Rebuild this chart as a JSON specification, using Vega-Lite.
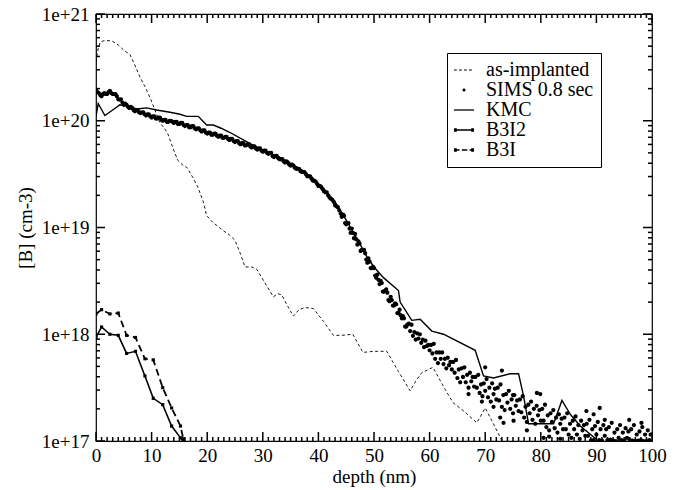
{
  "$schema": "https://vega.github.io/schema/vega-lite/v6.json",
  "autosize": "none",
  "width": 556,
  "height": 427,
  "padding": {"left": 96, "top": 14, "right": 30, "bottom": 49},
  "background": "white",
  "config": {
    "font": "Liberation Serif",
    "view": {"stroke": "black", "strokeWidth": 1.2},
    "axis": {"domain": false, "labelColor": "black", "titleColor": "black", "labelFont": "Liberation Serif", "titleFont": "Liberation Serif", "labelFontSize": 19, "titleFontSize": 19, "titleFontWeight": "normal", "grid": false}
  },
  "datasets": {
    "xticks": [
      {"v": 0}, {"v": 1}, {"v": 2}, {"v": 3}, {"v": 4}, {"v": 5}, {"v": 6}, {"v": 7}, {"v": 8}, {"v": 9}, {"v": 10}, {"v": 11}, {"v": 12}, {"v": 13}, {"v": 14}, {"v": 15}, {"v": 16}, {"v": 17}, {"v": 18}, {"v": 19}, {"v": 20}, {"v": 21}, {"v": 22}, {"v": 23}, {"v": 24}, {"v": 25}, {"v": 26}, {"v": 27}, {"v": 28}, {"v": 29}, {"v": 30}, {"v": 31}, {"v": 32}, {"v": 33}, {"v": 34}, {"v": 35}, {"v": 36}, {"v": 37}, {"v": 38}, {"v": 39}, {"v": 40}, {"v": 41}, {"v": 42}, {"v": 43}, {"v": 44}, {"v": 45}, {"v": 46}, {"v": 47}, {"v": 48}, {"v": 49}, {"v": 50}, {"v": 51}, {"v": 52}, {"v": 53}, {"v": 54}, {"v": 55}, {"v": 56}, {"v": 57}, {"v": 58}, {"v": 59}, {"v": 60}, {"v": 61}, {"v": 62}, {"v": 63}, {"v": 64}, {"v": 65}, {"v": 66}, {"v": 67}, {"v": 68}, {"v": 69}, {"v": 70}, {"v": 71}, {"v": 72}, {"v": 73}, {"v": 74}, {"v": 75}, {"v": 76}, {"v": 77}, {"v": 78}, {"v": 79}, {"v": 80}, {"v": 81}, {"v": 82}, {"v": 83}, {"v": 84}, {"v": 85}, {"v": 86}, {"v": 87}, {"v": 88}, {"v": 89}, {"v": 90}, {"v": 91}, {"v": 92}, {"v": 93}, {"v": 94}, {"v": 95}, {"v": 96}, {"v": 97}, {"v": 98}, {"v": 99}, {"v": 100}
    ],
    "yticks": [
      {"v": 1e17}, {"v": 2e17}, {"v": 3e17}, {"v": 4e17}, {"v": 5e17}, {"v": 6e17}, {"v": 7e17}, {"v": 8e17}, {"v": 9e17},
      {"v": 1e18}, {"v": 2e18}, {"v": 3e18}, {"v": 4e18}, {"v": 5e18}, {"v": 6e18}, {"v": 7e18}, {"v": 8e18}, {"v": 9e18},
      {"v": 1e19}, {"v": 2e19}, {"v": 3e19}, {"v": 4e19}, {"v": 5e19}, {"v": 6e19}, {"v": 7e19}, {"v": 8e19}, {"v": 9e19},
      {"v": 1e20}, {"v": 2e20}, {"v": 3e20}, {"v": 4e20}, {"v": 5e20}, {"v": 6e20}, {"v": 7e20}, {"v": 8e20}, {"v": 9e20},
      {"v": 1e21}
    ],
    "implant": [
      {"depth": 0, "conc": 3.55e20}, {"depth": 0.4, "conc": 4.79e20}, {"depth": 0.8, "conc": 5.50e20}, {"depth": 1.5, "conc": 5.62e20}, {"depth": 2.8, "conc": 5.62e20}, {"depth": 4.0, "conc": 5.13e20}, {"depth": 5.0, "conc": 4.57e20}, {"depth": 6.1, "conc": 4.17e20}, {"depth": 7.0, "conc": 3.31e20}, {"depth": 7.9, "conc": 2.57e20}, {"depth": 8.8, "conc": 2.09e20}, {"depth": 9.7, "conc": 1.66e20}, {"depth": 10.6, "conc": 1.26e20}, {"depth": 11.5, "conc": 9.55e19}, {"depth": 12.3, "conc": 8.51e19}, {"depth": 12.9, "conc": 7.59e19}, {"depth": 13.8, "conc": 5.62e19}, {"depth": 14.7, "conc": 4.27e19}, {"depth": 15.5, "conc": 3.89e19}, {"depth": 16.4, "conc": 3.63e19}, {"depth": 17.4, "conc": 2.95e19}, {"depth": 18.3, "conc": 2.40e19}, {"depth": 19.3, "conc": 1.74e19}, {"depth": 19.9, "conc": 1.29e19}, {"depth": 21.0, "conc": 1.12e19}, {"depth": 22.9, "conc": 9.33e18}, {"depth": 24.0, "conc": 8.51e18}, {"depth": 25.0, "conc": 7.59e18}, {"depth": 26.0, "conc": 5.62e18}, {"depth": 26.8, "conc": 4.27e18}, {"depth": 28.0, "conc": 4.27e18}, {"depth": 28.9, "conc": 4.07e18}, {"depth": 30.4, "conc": 3.02e18}, {"depth": 31.9, "conc": 2.24e18}, {"depth": 32.7, "conc": 2.40e18}, {"depth": 33.4, "conc": 2.34e18}, {"depth": 34.5, "conc": 1.82e18}, {"depth": 35.5, "conc": 1.48e18}, {"depth": 36.5, "conc": 1.70e18}, {"depth": 37.6, "conc": 1.78e18}, {"depth": 39.1, "conc": 1.74e18}, {"depth": 40.9, "conc": 1.32e18}, {"depth": 42.7, "conc": 9.77e17}, {"depth": 44.2, "conc": 9.77e17}, {"depth": 46.2, "conc": 1.00e18}, {"depth": 48.0, "conc": 6.76e17}, {"depth": 50.0, "conc": 6.92e17}, {"depth": 52.3, "conc": 6.92e17}, {"depth": 54.4, "conc": 4.47e17}, {"depth": 56.5, "conc": 2.95e17}, {"depth": 57.5, "conc": 3.63e17}, {"depth": 58.6, "conc": 4.37e17}, {"depth": 60.6, "conc": 4.90e17}, {"depth": 62.4, "conc": 3.31e17}, {"depth": 64.2, "conc": 2.29e17}, {"depth": 66.4, "conc": 1.86e17}, {"depth": 68.5, "conc": 1.48e17}, {"depth": 70.0, "conc": 2.04e17}, {"depth": 71.6, "conc": 1.41e17}, {"depth": 73.2, "conc": 9.55e16}
    ],
    "kmc": [
      {"depth": 0, "conc": 1.10e20}, {"depth": 0.4, "conc": 1.45e20}, {"depth": 1.6, "conc": 1.12e20}, {"depth": 3.0, "conc": 1.26e20}, {"depth": 4.3, "conc": 1.41e20}, {"depth": 5.5, "conc": 1.38e20}, {"depth": 7.3, "conc": 1.29e20}, {"depth": 9.1, "conc": 1.32e20}, {"depth": 10.9, "conc": 1.26e20}, {"depth": 13.3, "conc": 1.20e20}, {"depth": 15.1, "conc": 1.15e20}, {"depth": 16.3, "conc": 1.10e20}, {"depth": 18.4, "conc": 1.10e20}, {"depth": 19.9, "conc": 9.12e19}, {"depth": 21.1, "conc": 9.12e19}, {"depth": 22.5, "conc": 8.51e19}, {"depth": 24.1, "conc": 7.76e19}, {"depth": 26.5, "conc": 6.61e19}, {"depth": 29, "conc": 5.62e19}, {"depth": 31, "conc": 5.01e19}, {"depth": 33, "conc": 4.57e19}, {"depth": 35, "conc": 3.98e19}, {"depth": 37, "conc": 3.47e19}, {"depth": 39, "conc": 2.88e19}, {"depth": 41, "conc": 2.29e19}, {"depth": 43, "conc": 1.74e19}, {"depth": 45, "conc": 1.17e19}, {"depth": 47, "conc": 7.76e18}, {"depth": 49, "conc": 5.01e18}, {"depth": 50.5, "conc": 3.98e18}, {"depth": 51.7, "conc": 3.39e18}, {"depth": 54.4, "conc": 2.57e18}, {"depth": 54.7, "conc": 2.00e18}, {"depth": 56.8, "conc": 1.35e18}, {"depth": 58.3, "conc": 1.38e18}, {"depth": 60.4, "conc": 1.07e18}, {"depth": 62.5, "conc": 1.00e18}, {"depth": 68.2, "conc": 7.08e17}, {"depth": 69.7, "conc": 4.07e17}, {"depth": 71.5, "conc": 3.89e17}, {"depth": 74.5, "conc": 4.27e17}, {"depth": 76.0, "conc": 4.27e17}, {"depth": 76.9, "conc": 2.63e17}, {"depth": 77.8, "conc": 1.45e17}, {"depth": 82.3, "conc": 1.45e17}, {"depth": 83.8, "conc": 2.40e17}, {"depth": 85.3, "conc": 1.78e17}, {"depth": 87.1, "conc": 1.38e17}, {"depth": 90.6, "conc": 9.77e16}
    ],
    "b3i2": [
      {"depth": 0, "conc": 9.33e17}, {"depth": 1.0, "conc": 1.17e18}, {"depth": 2.5, "conc": 1.00e18}, {"depth": 4.0, "conc": 9.77e17}, {"depth": 5.5, "conc": 6.61e17}, {"depth": 7.1, "conc": 6.92e17}, {"depth": 8.8, "conc": 4.07e17}, {"depth": 10.3, "conc": 2.51e17}, {"depth": 12.0, "conc": 2.19e17}, {"depth": 13.6, "conc": 1.38e17}, {"depth": 15.2, "conc": 1.07e17}, {"depth": 15.7, "conc": 1.00e17}
    ],
    "b3i": [
      {"depth": 0, "conc": 1.55e18}, {"depth": 1.0, "conc": 1.70e18}, {"depth": 2.5, "conc": 1.55e18}, {"depth": 4.0, "conc": 1.58e18}, {"depth": 5.5, "conc": 9.77e17}, {"depth": 7.1, "conc": 9.33e17}, {"depth": 8.8, "conc": 5.89e17}, {"depth": 10.3, "conc": 5.75e17}, {"depth": 12.0, "conc": 3.16e17}, {"depth": 13.6, "conc": 2.04e17}, {"depth": 15.2, "conc": 1.38e17}, {"depth": 15.7, "conc": 1.05e17}
    ],
    "sims": [
      {"depth": 0, "conc": 1.95e20}, {"depth": 0.5, "conc": 1.82e20}, {"depth": 1, "conc": 1.70e20}, {"depth": 1.5, "conc": 1.82e20}, {"depth": 2, "conc": 1.78e20}, {"depth": 2.5, "conc": 1.91e20}, {"depth": 3, "conc": 1.78e20}, {"depth": 3.5, "conc": 1.78e20}, {"depth": 4, "conc": 1.59e20}, {"depth": 4.5, "conc": 1.59e20}, {"depth": 5, "conc": 1.41e20}, {"depth": 5.5, "conc": 1.41e20}, {"depth": 6, "conc": 1.32e20}, {"depth": 6.5, "conc": 1.32e20}, {"depth": 7, "conc": 1.23e20}, {"depth": 7.5, "conc": 1.26e20}, {"depth": 8, "conc": 1.18e20}, {"depth": 8.5, "conc": 1.20e20}, {"depth": 9, "conc": 1.12e20}, {"depth": 9.5, "conc": 1.15e20}, {"depth": 10, "conc": 1.07e20}, {"depth": 10.5, "conc": 1.10e20}, {"depth": 11, "conc": 1.05e20}, {"depth": 11.5, "conc": 1.07e20}, {"depth": 12, "conc": 1.00e20}, {"depth": 12.5, "conc": 1.02e20}, {"depth": 13, "conc": 9.77e19}, {"depth": 13.5, "conc": 1.00e20}, {"depth": 14, "conc": 9.55e19}, {"depth": 14.5, "conc": 9.77e19}, {"depth": 15, "conc": 9.33e19}, {"depth": 15.5, "conc": 9.55e19}, {"depth": 16, "conc": 8.91e19}, {"depth": 16.5, "conc": 9.12e19}, {"depth": 17, "conc": 8.71e19}, {"depth": 17.5, "conc": 8.91e19}, {"depth": 18, "conc": 8.32e19}, {"depth": 18.5, "conc": 8.51e19}, {"depth": 19, "conc": 7.94e19}, {"depth": 19.5, "conc": 8.13e19}, {"depth": 20, "conc": 7.59e19}, {"depth": 20.5, "conc": 7.76e19}, {"depth": 21, "conc": 7.41e19}, {"depth": 21.5, "conc": 7.59e19}, {"depth": 22, "conc": 7.08e19}, {"depth": 22.5, "conc": 7.24e19}, {"depth": 23, "conc": 6.92e19}, {"depth": 23.5, "conc": 7.08e19}, {"depth": 24, "conc": 6.61e19}, {"depth": 24.5, "conc": 6.76e19}, {"depth": 25, "conc": 6.31e19}, {"depth": 25.5, "conc": 6.46e19}, {"depth": 26, "conc": 6.03e19}, {"depth": 26.5, "conc": 6.17e19}, {"depth": 27, "conc": 5.89e19}, {"depth": 27.5, "conc": 6.03e19}, {"depth": 28, "conc": 5.62e19}, {"depth": 28.5, "conc": 5.75e19}, {"depth": 29, "conc": 5.37e19}, {"depth": 29.5, "conc": 5.50e19}, {"depth": 30, "conc": 5.13e19}, {"depth": 30.5, "conc": 5.25e19}, {"depth": 31, "conc": 4.90e19}, {"depth": 31.5, "conc": 5.01e19}, {"depth": 32, "conc": 4.57e19}, {"depth": 32.5, "conc": 4.68e19}, {"depth": 33, "conc": 4.37e19}, {"depth": 33.5, "conc": 4.37e19}, {"depth": 34, "conc": 4.07e19}, {"depth": 34.5, "conc": 4.07e19}, {"depth": 35, "conc": 3.80e19}, {"depth": 35.5, "conc": 3.80e19}, {"depth": 36, "conc": 3.55e19}, {"depth": 36.5, "conc": 3.55e19}, {"depth": 37, "conc": 3.31e19}, {"depth": 37.5, "conc": 3.31e19}, {"depth": 38, "conc": 3.02e19}, {"depth": 38.5, "conc": 3.02e19}, {"depth": 39, "conc": 2.75e19}, {"depth": 39.5, "conc": 2.69e19}, {"depth": 40, "conc": 2.45e19}, {"depth": 40.5, "conc": 2.40e19}, {"depth": 41, "conc": 2.19e19}, {"depth": 41.5, "conc": 2.14e19}, {"depth": 42, "conc": 1.91e19}, {"depth": 42.5, "conc": 1.82e19}, {"depth": 43, "conc": 1.62e19}, {"depth": 43.5, "conc": 1.55e19}, {"depth": 44, "conc": 1.35e19},
      {"depth": 0.25, "conc": 1.86e20}, {"depth": 0.75, "conc": 1.74e20}, {"depth": 1.25, "conc": 1.78e20}, {"depth": 1.75, "conc": 1.78e20}, {"depth": 2.25, "conc": 1.86e20}, {"depth": 2.75, "conc": 1.82e20}, {"depth": 3.25, "conc": 1.78e20}, {"depth": 3.75, "conc": 1.70e20}, {"depth": 4.25, "conc": 1.58e20}, {"depth": 4.75, "conc": 1.48e20}, {"depth": 5.25, "conc": 1.45e20}, {"depth": 5.75, "conc": 1.35e20}, {"depth": 6.25, "conc": 1.35e20}, {"depth": 6.75, "conc": 1.26e20}, {"depth": 7.25, "conc": 1.26e20}, {"depth": 7.75, "conc": 1.20e20}, {"depth": 8.25, "conc": 1.20e20}, {"depth": 8.75, "conc": 1.15e20}, {"depth": 9.25, "conc": 1.15e20}, {"depth": 9.75, "conc": 1.10e20}, {"depth": 10.25, "conc": 1.10e20}, {"depth": 10.75, "conc": 1.05e20}, {"depth": 11.25, "conc": 1.07e20}, {"depth": 11.75, "conc": 1.02e20}, {"depth": 12.25, "conc": 1.02e20}, {"depth": 12.75, "conc": 9.77e19}, {"depth": 13.25, "conc": 1.00e20}, {"depth": 13.75, "conc": 9.77e19}, {"depth": 14.25, "conc": 9.77e19}, {"depth": 14.75, "conc": 9.33e19}, {"depth": 15.25, "conc": 9.55e19}, {"depth": 15.75, "conc": 9.12e19}, {"depth": 16.25, "conc": 9.12e19}, {"depth": 16.75, "conc": 8.71e19}, {"depth": 17.25, "conc": 8.91e19}, {"depth": 17.75, "conc": 8.51e19}, {"depth": 18.25, "conc": 8.51e19}, {"depth": 18.75, "conc": 8.13e19}, {"depth": 19.25, "conc": 8.13e19}, {"depth": 19.75, "conc": 7.76e19}, {"depth": 20.25, "conc": 7.76e19}, {"depth": 20.75, "conc": 7.41e19}, {"depth": 21.25, "conc": 7.59e19}, {"depth": 21.75, "conc": 7.24e19}, {"depth": 22.25, "conc": 7.24e19}, {"depth": 22.75, "conc": 6.92e19}, {"depth": 23.25, "conc": 7.08e19}, {"depth": 23.75, "conc": 6.76e19}, {"depth": 24.25, "conc": 6.76e19}, {"depth": 24.75, "conc": 6.46e19}, {"depth": 25.25, "conc": 6.46e19}, {"depth": 25.75, "conc": 6.17e19}, {"depth": 26.25, "conc": 6.17e19}, {"depth": 26.75, "conc": 5.89e19}, {"depth": 27.25, "conc": 6.03e19}, {"depth": 27.75, "conc": 5.75e19}, {"depth": 28.25, "conc": 5.75e19}, {"depth": 28.75, "conc": 5.50e19}, {"depth": 29.25, "conc": 5.50e19}, {"depth": 29.75, "conc": 5.25e19}, {"depth": 30.25, "conc": 5.25e19}, {"depth": 30.75, "conc": 5.01e19}, {"depth": 31.25, "conc": 5.01e19}, {"depth": 31.75, "conc": 4.68e19}, {"depth": 32.25, "conc": 4.68e19}, {"depth": 32.75, "conc": 4.47e19}, {"depth": 33.25, "conc": 4.37e19}, {"depth": 33.75, "conc": 4.17e19}, {"depth": 34.25, "conc": 4.17e19}, {"depth": 34.75, "conc": 3.89e19}, {"depth": 35.25, "conc": 3.89e19}, {"depth": 35.75, "conc": 3.63e19}, {"depth": 36.25, "conc": 3.55e19}, {"depth": 36.75, "conc": 3.39e19}, {"depth": 37.25, "conc": 3.31e19}, {"depth": 37.75, "conc": 3.16e19}, {"depth": 38.25, "conc": 3.02e19}, {"depth": 38.75, "conc": 2.88e19}, {"depth": 39.25, "conc": 2.75e19}, {"depth": 39.75, "conc": 2.57e19}, {"depth": 40.25, "conc": 2.45e19}, {"depth": 40.75, "conc": 2.29e19}, {"depth": 41.25, "conc": 2.14e19}, {"depth": 41.75, "conc": 2.00e19}, {"depth": 42.25, "conc": 1.86e19}, {"depth": 42.75, "conc": 1.74e19}, {"depth": 43.25, "conc": 1.58e19}, {"depth": 43.75, "conc": 1.45e19},
      {"depth": 44.4, "conc": 1.32e19}, {"depth": 44.8, "conc": 1.10e19}, {"depth": 45.2, "conc": 1.10e19}, {"depth": 45.6, "conc": 9.77e18}, {"depth": 46.0, "conc": 9.77e18}, {"depth": 46.4, "conc": 7.94e18}, {"depth": 46.8, "conc": 7.76e18}, {"depth": 47.2, "conc": 7.41e18}, {"depth": 47.6, "conc": 6.03e18}, {"depth": 48.0, "conc": 6.17e18}, {"depth": 48.4, "conc": 5.75e18}, {"depth": 48.8, "conc": 4.68e18}, {"depth": 49.2, "conc": 4.79e18}, {"depth": 49.6, "conc": 4.17e18}, {"depth": 50.0, "conc": 4.17e18}, {"depth": 50.4, "conc": 3.39e18}, {"depth": 50.8, "conc": 3.24e18}, {"depth": 51.2, "conc": 3.16e18}, {"depth": 51.6, "conc": 2.51e18}, {"depth": 52.0, "conc": 2.57e18}, {"depth": 52.4, "conc": 2.45e18}, {"depth": 52.8, "conc": 2.04e18}, {"depth": 53.2, "conc": 2.09e18}, {"depth": 53.6, "conc": 1.86e18}, {"depth": 54.0, "conc": 1.91e18}, {"depth": 54.4, "conc": 1.58e18}, {"depth": 54.8, "conc": 1.51e18}, {"depth": 55.2, "conc": 1.48e18}, {"depth": 55.6, "conc": 1.18e18}, {"depth": 56.0, "conc": 1.23e18},
      {"depth": 44.2, "conc": 1.26e19}, {"depth": 44.6, "conc": 1.29e19}, {"depth": 45.0, "conc": 1.07e19}, {"depth": 45.4, "conc": 1.10e19}, {"depth": 45.8, "conc": 8.91e18}, {"depth": 46.2, "conc": 8.91e18}, {"depth": 46.6, "conc": 8.71e18}, {"depth": 47.0, "conc": 6.92e18}, {"depth": 47.4, "conc": 7.08e18}, {"depth": 47.8, "conc": 6.17e18}, {"depth": 48.2, "conc": 6.17e18}, {"depth": 48.6, "conc": 5.01e18}, {"depth": 49.0, "conc": 5.13e18}, {"depth": 49.4, "conc": 4.17e18}, {"depth": 49.8, "conc": 4.27e18}, {"depth": 50.2, "conc": 3.55e18}, {"depth": 50.6, "conc": 3.63e18}, {"depth": 51.0, "conc": 2.95e18}, {"depth": 51.4, "conc": 3.02e18}, {"depth": 51.8, "conc": 2.51e18}, {"depth": 52.2, "conc": 2.63e18}, {"depth": 52.6, "conc": 2.09e18}, {"depth": 53.0, "conc": 2.24e18}, {"depth": 53.4, "conc": 1.86e18}, {"depth": 53.8, "conc": 1.95e18}, {"depth": 54.2, "conc": 1.58e18}, {"depth": 54.6, "conc": 1.70e18}, {"depth": 55.0, "conc": 1.41e18}, {"depth": 55.4, "conc": 1.41e18}, {"depth": 55.8, "conc": 1.18e18},
      {"depth": 56.25, "conc": 1.26e18}, {"depth": 56.5, "conc": 1.07e18}, {"depth": 56.75, "conc": 1.23e18}, {"depth": 57.0, "conc": 9.66e17}, {"depth": 57.25, "conc": 1.05e18}, {"depth": 57.5, "conc": 8.91e17}, {"depth": 57.75, "conc": 1.02e18}, {"depth": 58.0, "conc": 9.12e17}, {"depth": 58.25, "conc": 1.00e18}, {"depth": 58.5, "conc": 8.32e17}, {"depth": 58.75, "conc": 8.91e17}, {"depth": 59.0, "conc": 7.59e17}, {"depth": 59.25, "conc": 8.71e17}, {"depth": 59.5, "conc": 7.76e17}, {"depth": 59.75, "conc": 7.94e17}, {"depth": 60.0, "conc": 7.08e17},
      {"depth": 60.25, "conc": 7.94e17}, {"depth": 60.5, "conc": 6.61e17}, {"depth": 60.75, "conc": 8.13e17}, {"depth": 61.0, "conc": 5.89e17}, {"depth": 61.25, "conc": 6.76e17}, {"depth": 61.5, "conc": 5.37e17}, {"depth": 61.75, "conc": 6.76e17}, {"depth": 62.0, "conc": 5.89e17}, {"depth": 62.25, "conc": 6.76e17}, {"depth": 62.5, "conc": 5.25e17}, {"depth": 62.75, "conc": 5.89e17}, {"depth": 63.0, "conc": 4.79e17}, {"depth": 63.25, "conc": 6.03e17}, {"depth": 63.5, "conc": 5.13e17}, {"depth": 63.75, "conc": 5.50e17}, {"depth": 64.0, "conc": 4.68e17},
      {"depth": 64.25, "conc": 5.50e17}, {"depth": 64.5, "conc": 4.37e17}, {"depth": 64.75, "conc": 5.75e17}, {"depth": 65.0, "conc": 3.89e17}, {"depth": 65.25, "conc": 4.68e17}, {"depth": 65.5, "conc": 3.55e17}, {"depth": 65.75, "conc": 4.79e17}, {"depth": 66.0, "conc": 3.98e17}, {"depth": 66.25, "conc": 4.90e17}, {"depth": 66.5, "conc": 3.55e17}, {"depth": 66.75, "conc": 4.17e17}, {"depth": 67.0, "conc": 3.16e17}, {"depth": 67.25, "conc": 4.37e17}, {"depth": 67.5, "conc": 3.63e17}, {"depth": 67.75, "conc": 3.98e17}, {"depth": 68.0, "conc": 3.24e17},
      {"depth": 68.25, "conc": 3.98e17}, {"depth": 68.5, "conc": 3.16e17}, {"depth": 68.75, "conc": 4.17e17}, {"depth": 69.0, "conc": 2.82e17}, {"depth": 69.25, "conc": 3.39e17}, {"depth": 69.5, "conc": 2.63e17}, {"depth": 69.75, "conc": 3.47e17}, {"depth": 70.0, "conc": 2.95e17}, {"depth": 70.25, "conc": 3.80e17}, {"depth": 70.5, "conc": 2.57e17}, {"depth": 70.75, "conc": 3.16e17}, {"depth": 71.0, "conc": 2.34e17}, {"depth": 71.25, "conc": 3.47e17}, {"depth": 71.5, "conc": 2.75e17}, {"depth": 71.75, "conc": 3.09e17}, {"depth": 72.0, "conc": 2.45e17},
      {"depth": 72.25, "conc": 3.16e17}, {"depth": 72.5, "conc": 2.40e17}, {"depth": 72.75, "conc": 3.39e17}, {"depth": 73.0, "conc": 2.09e17}, {"depth": 73.25, "conc": 2.69e17}, {"depth": 73.5, "conc": 1.95e17}, {"depth": 73.75, "conc": 2.75e17}, {"depth": 74.0, "conc": 2.29e17}, {"depth": 74.25, "conc": 2.95e17}, {"depth": 74.5, "conc": 2.00e17}, {"depth": 74.75, "conc": 2.45e17}, {"depth": 75.0, "conc": 1.82e17}, {"depth": 75.25, "conc": 2.69e17}, {"depth": 75.5, "conc": 2.14e17}, {"depth": 75.75, "conc": 2.40e17}, {"depth": 76.0, "conc": 1.91e17},
      {"depth": 76.25, "conc": 2.45e17}, {"depth": 76.5, "conc": 1.86e17}, {"depth": 76.75, "conc": 2.63e17}, {"depth": 77.0, "conc": 1.66e17}, {"depth": 77.25, "conc": 2.09e17}, {"depth": 77.5, "conc": 1.51e17}, {"depth": 77.75, "conc": 2.19e17}, {"depth": 78.0, "conc": 1.82e17}, {"depth": 78.25, "conc": 2.34e17}, {"depth": 78.5, "conc": 1.58e17}, {"depth": 78.75, "conc": 2.00e17}, {"depth": 79.0, "conc": 1.45e17}, {"depth": 79.25, "conc": 2.14e17}, {"depth": 79.5, "conc": 1.74e17}, {"depth": 79.75, "conc": 1.95e17}, {"depth": 80.0, "conc": 1.55e17},
      {"depth": 80.25, "conc": 2.00e17}, {"depth": 80.5, "conc": 1.55e17}, {"depth": 80.75, "conc": 2.19e17}, {"depth": 81.0, "conc": 1.35e17}, {"depth": 81.25, "conc": 1.74e17}, {"depth": 81.5, "conc": 1.26e17}, {"depth": 81.75, "conc": 1.82e17}, {"depth": 82.0, "conc": 1.51e17}, {"depth": 82.25, "conc": 1.95e17}, {"depth": 82.5, "conc": 1.32e17}, {"depth": 82.75, "conc": 1.66e17}, {"depth": 83.0, "conc": 1.20e17}, {"depth": 83.25, "conc": 1.78e17}, {"depth": 83.5, "conc": 1.45e17}, {"depth": 83.75, "conc": 1.62e17}, {"depth": 84.0, "conc": 1.29e17},
      {"depth": 84.25, "conc": 1.66e17}, {"depth": 84.5, "conc": 1.29e17}, {"depth": 84.75, "conc": 1.82e17}, {"depth": 85.0, "conc": 1.15e17}, {"depth": 85.25, "conc": 1.45e17}, {"depth": 85.5, "conc": 1.07e17}, {"depth": 85.75, "conc": 1.55e17}, {"depth": 86.0, "conc": 1.29e17}, {"depth": 86.25, "conc": 1.70e17}, {"depth": 86.5, "conc": 1.15e17}, {"depth": 86.75, "conc": 1.41e17}, {"depth": 87.0, "conc": 1.05e17}, {"depth": 87.25, "conc": 1.55e17}, {"depth": 87.5, "conc": 1.26e17}, {"depth": 87.75, "conc": 1.41e17}, {"depth": 88.0, "conc": 1.12e17},
      {"depth": 88.25, "conc": 1.45e17}, {"depth": 88.5, "conc": 1.12e17}, {"depth": 88.75, "conc": 1.58e17}, {"depth": 89.0, "conc": 1.01e17}, {"depth": 89.25, "conc": 1.29e17}, {"depth": 89.5, "conc": 1.02e17}, {"depth": 89.75, "conc": 1.38e17}, {"depth": 90.0, "conc": 1.15e17}, {"depth": 90.25, "conc": 1.51e17}, {"depth": 90.5, "conc": 1.02e17}, {"depth": 90.75, "conc": 1.29e17}, {"depth": 91.0, "conc": 1.01e17}, {"depth": 91.25, "conc": 1.41e17}, {"depth": 91.5, "conc": 1.12e17}, {"depth": 91.75, "conc": 1.29e17}, {"depth": 92.0, "conc": 1.02e17},
      {"depth": 92.25, "conc": 1.35e17}, {"depth": 92.5, "conc": 1.03e17}, {"depth": 92.75, "conc": 1.48e17}, {"depth": 93.0, "conc": 1.01e17}, {"depth": 93.25, "conc": 1.20e17}, {"depth": 93.5, "conc": 1.00e17}, {"depth": 93.75, "conc": 1.29e17}, {"depth": 94.0, "conc": 1.07e17}, {"depth": 94.25, "conc": 1.41e17}, {"depth": 94.5, "conc": 1.02e17}, {"depth": 94.75, "conc": 1.20e17}, {"depth": 95.0, "conc": 1.01e17}, {"depth": 95.25, "conc": 1.32e17}, {"depth": 95.5, "conc": 1.07e17}, {"depth": 95.75, "conc": 1.23e17}, {"depth": 96.0, "conc": 1.02e17},
      {"depth": 96.25, "conc": 1.29e17}, {"depth": 96.5, "conc": 1.01e17}, {"depth": 96.75, "conc": 1.41e17}, {"depth": 97.0, "conc": 1.00e17}, {"depth": 97.25, "conc": 1.15e17}, {"depth": 97.5, "conc": 1.01e17}, {"depth": 97.75, "conc": 1.23e17}, {"depth": 98.0, "conc": 1.02e17}, {"depth": 98.25, "conc": 1.35e17}, {"depth": 98.5, "conc": 1.00e17}, {"depth": 98.75, "conc": 1.15e17}, {"depth": 99.0, "conc": 1.00e17}, {"depth": 99.25, "conc": 1.26e17}, {"depth": 99.5, "conc": 1.02e17}, {"depth": 99.75, "conc": 1.15e17},
      {"depth": 67.0, "conc": 2.75e17}, {"depth": 69.4, "conc": 2.34e17}, {"depth": 70.0, "conc": 4.90e17}, {"depth": 71.5, "conc": 2.09e17}, {"depth": 72.7, "conc": 1.66e17}, {"depth": 73.0, "conc": 4.57e17}, {"depth": 73.3, "conc": 1.48e17}, {"depth": 75.1, "conc": 1.55e17}, {"depth": 75.0, "conc": 2.69e17}, {"depth": 77.5, "conc": 1.26e17}, {"depth": 79.3, "conc": 2.82e17}, {"depth": 79.9, "conc": 2.75e17}, {"depth": 80.5, "conc": 1.07e17}, {"depth": 81.5, "conc": 1.10e17}, {"depth": 83.5, "conc": 1.05e17}, {"depth": 88.2, "conc": 1.91e17}, {"depth": 89.5, "conc": 1.78e17}, {"depth": 90.6, "conc": 2.04e17}, {"depth": 91.5, "conc": 1.58e17}, {"depth": 95.9, "conc": 1.58e17}, {"depth": 98.1, "conc": 1.48e17}
    ]
  },
  "resolve": {"axis": {"x": "independent", "y": "independent"}},
  "layer": [
    {
      "data": {"name": "implant"},
      "mark": {"type": "line", "color": "black", "strokeWidth": 0.9, "strokeDash": [3, 2.5], "clip": true},
      "encoding": {
        "x": {"field": "depth", "type": "quantitative", "scale": {"domain": [0, 100], "nice": false, "zero": false},
          "axis": {"orient": "bottom", "values": [0,10,20,30,40,50,60,70,80,90,100], "ticks": false,
            "labelPadding": 5, "labelFlush": false, "labelOverlap": false, "title": "depth (nm)", "titlePadding": 2}},
        "y": {"field": "conc", "type": "quantitative", "scale": {"type": "log", "domain": [1e17, 1e21], "nice": false},
          "axis": {"orient": "left", "values": [1e17, 1e18, 1e19, 1e20, 1e21], "ticks": false,
            "labelExpr": "'1e+' + round(log(datum.value)/LN10)",
            "labelPadding": 7, "labelOverlap": false, "labelFlush": false, "labelBound": false, "title": "[B] (cm-3)", "titlePadding": 6}}
      }
    },
    {
      "data": {"name": "xticks"},
      "transform": [{"filter": "datum.v % 10 === 0"}],
      "mark": {"type": "rule", "color": "black", "strokeWidth": 1.5, "y2Offset": -9},
      "encoding": {
        "x": {"field": "v", "type": "quantitative", "scale": {"domain": [0, 100], "nice": false, "zero": false}, "axis": null},
        "y": {"datum": 1e17, "type": "quantitative", "scale": {"type": "log", "domain": [1e17, 1e21], "nice": false}, "axis": null},
        "y2": {"datum": 1e17}
      }
    },
    {
      "data": {"name": "xticks"},
      "transform": [{"filter": "datum.v % 10 !== 0"}],
      "mark": {"type": "rule", "color": "black", "strokeWidth": 1.5, "y2Offset": -4},
      "encoding": {
        "x": {"field": "v", "type": "quantitative", "scale": {"domain": [0, 100], "nice": false, "zero": false}, "axis": null},
        "y": {"datum": 1e17, "type": "quantitative", "scale": {"type": "log", "domain": [1e17, 1e21], "nice": false}, "axis": null},
        "y2": {"datum": 1e17}
      }
    },
    {
      "data": {"name": "xticks"},
      "transform": [{"filter": "datum.v % 10 === 0"}],
      "mark": {"type": "rule", "color": "black", "strokeWidth": 1.5, "y2Offset": 9},
      "encoding": {
        "x": {"field": "v", "type": "quantitative", "scale": {"domain": [0, 100], "nice": false, "zero": false}, "axis": null},
        "y": {"datum": 1e21, "type": "quantitative", "scale": {"type": "log", "domain": [1e17, 1e21], "nice": false}, "axis": null},
        "y2": {"datum": 1e21}
      }
    },
    {
      "data": {"name": "xticks"},
      "transform": [{"filter": "datum.v % 10 !== 0"}],
      "mark": {"type": "rule", "color": "black", "strokeWidth": 1.5, "y2Offset": 4},
      "encoding": {
        "x": {"field": "v", "type": "quantitative", "scale": {"domain": [0, 100], "nice": false, "zero": false}, "axis": null},
        "y": {"datum": 1e21, "type": "quantitative", "scale": {"type": "log", "domain": [1e17, 1e21], "nice": false}, "axis": null},
        "y2": {"datum": 1e21}
      }
    },
    {
      "data": {"name": "yticks"},
      "transform": [{"filter": "abs(log(datum.v)/LN10 - round(log(datum.v)/LN10)) < 0.001"}],
      "mark": {"type": "rule", "color": "black", "strokeWidth": 1.5, "x2Offset": 9},
      "encoding": {
        "y": {"field": "v", "type": "quantitative", "scale": {"type": "log", "domain": [1e17, 1e21], "nice": false}, "axis": null},
        "x": {"datum": 0, "type": "quantitative", "scale": {"domain": [0, 100], "nice": false, "zero": false}, "axis": null},
        "x2": {"datum": 0}
      }
    },
    {
      "data": {"name": "yticks"},
      "transform": [{"filter": "abs(log(datum.v)/LN10 - round(log(datum.v)/LN10)) >= 0.001"}],
      "mark": {"type": "rule", "color": "black", "strokeWidth": 1.5, "x2Offset": 4},
      "encoding": {
        "y": {"field": "v", "type": "quantitative", "scale": {"type": "log", "domain": [1e17, 1e21], "nice": false}, "axis": null},
        "x": {"datum": 0, "type": "quantitative", "scale": {"domain": [0, 100], "nice": false, "zero": false}, "axis": null},
        "x2": {"datum": 0}
      }
    },
    {
      "data": {"name": "yticks"},
      "transform": [{"filter": "abs(log(datum.v)/LN10 - round(log(datum.v)/LN10)) < 0.001"}],
      "mark": {"type": "rule", "color": "black", "strokeWidth": 1.5, "x2Offset": -9},
      "encoding": {
        "y": {"field": "v", "type": "quantitative", "scale": {"type": "log", "domain": [1e17, 1e21], "nice": false}, "axis": null},
        "x": {"datum": 100, "type": "quantitative", "scale": {"domain": [0, 100], "nice": false, "zero": false}, "axis": null},
        "x2": {"datum": 100}
      }
    },
    {
      "data": {"name": "yticks"},
      "transform": [{"filter": "abs(log(datum.v)/LN10 - round(log(datum.v)/LN10)) >= 0.001"}],
      "mark": {"type": "rule", "color": "black", "strokeWidth": 1.5, "x2Offset": -4},
      "encoding": {
        "y": {"field": "v", "type": "quantitative", "scale": {"type": "log", "domain": [1e17, 1e21], "nice": false}, "axis": null},
        "x": {"datum": 100, "type": "quantitative", "scale": {"domain": [0, 100], "nice": false, "zero": false}, "axis": null},
        "x2": {"datum": 100}
      }
    },
    {
      "data": {"name": "kmc"},
      "mark": {"type": "line", "color": "black", "strokeWidth": 1.4, "clip": true},
      "encoding": {
        "x": {"field": "depth", "type": "quantitative", "scale": {"domain": [0, 100], "nice": false, "zero": false}, "axis": null},
        "y": {"field": "conc", "type": "quantitative", "scale": {"type": "log", "domain": [1e17, 1e21], "nice": false}, "axis": null}
      }
    },
    {
      "data": {"name": "b3i2"},
      "mark": {"type": "line", "color": "black", "strokeWidth": 1.6, "clip": true},
      "encoding": {
        "x": {"field": "depth", "type": "quantitative", "scale": {"domain": [0, 100], "nice": false, "zero": false}, "axis": null},
        "y": {"field": "conc", "type": "quantitative", "scale": {"type": "log", "domain": [1e17, 1e21], "nice": false}, "axis": null}
      }
    },
    {
      "data": {"name": "b3i2"},
      "mark": {"type": "square", "color": "black", "size": 10, "opacity": 1, "clip": true},
      "encoding": {
        "x": {"field": "depth", "type": "quantitative", "scale": {"domain": [0, 100], "nice": false, "zero": false}, "axis": null},
        "y": {"field": "conc", "type": "quantitative", "scale": {"type": "log", "domain": [1e17, 1e21], "nice": false}, "axis": null}
      }
    },
    {
      "data": {"name": "b3i"},
      "mark": {"type": "line", "color": "black", "strokeWidth": 1.8, "strokeDash": [7, 4], "clip": true},
      "encoding": {
        "x": {"field": "depth", "type": "quantitative", "scale": {"domain": [0, 100], "nice": false, "zero": false}, "axis": null},
        "y": {"field": "conc", "type": "quantitative", "scale": {"type": "log", "domain": [1e17, 1e21], "nice": false}, "axis": null}
      }
    },
    {
      "data": {"name": "b3i"},
      "mark": {"type": "square", "color": "black", "size": 10, "opacity": 1, "clip": true},
      "encoding": {
        "x": {"field": "depth", "type": "quantitative", "scale": {"domain": [0, 100], "nice": false, "zero": false}, "axis": null},
        "y": {"field": "conc", "type": "quantitative", "scale": {"type": "log", "domain": [1e17, 1e21], "nice": false}, "axis": null}
      }
    },
    {
      "data": {"name": "sims"},
      "mark": {"type": "point", "filled": true, "color": "black", "size": 784, "opacity": 1, "clip": true},
      "encoding": {
        "x": {"field": "depth", "type": "quantitative", "scale": {"domain": [0, 100], "nice": false, "zero": false}, "axis": null},
        "y": {"field": "conc", "type": "quantitative", "scale": {"type": "log", "domain": [1e17, 1e21], "nice": false}, "axis": null},
        "shape": {
          "datum": "SIMS 0.8 sec",
          "scale": {
            "domain": ["as-implanted", "SIMS 0.8 sec", "KMC", "B3I2", "B3I"],
            "range": [
              "M-1,-0.045H-0.72V0.045H-1ZM-0.5,-0.045H-0.22V0.045H-0.5ZM0,-0.045H0.28V0.045H0ZM0.5,-0.045H0.78V0.045H0.5Z",
              "M-0.15,0A0.15,0.15,0,1,0,0.15,0A0.15,0.15,0,1,0,-0.15,0Z",
              "M-1,-0.065H1V0.065H-1Z",
              "M-1,-0.08H1V0.08H-1ZM-1,-0.17H-0.72V0.17H-1ZM0.72,-0.17H1V0.17H0.72Z",
              "M-1,-0.08H-0.45V0.08H-1ZM-0.22,-0.08H0.33V0.08H-0.22ZM0.56,-0.08H1V0.08H0.56ZM-1,-0.17H-0.72V0.17H-1ZM0.72,-0.17H1V0.17H0.72Z"
            ]
          },
          "legend": {
            "title": null,
            "orient": "none",
            "legendX": 351,
            "legendY": 39,
            "strokeColor": "black",
            "fillColor": "white",
            "padding": 7,
            "symbolSize": 400,
            "symbolFillColor": "black",
            "symbolStrokeWidth": 0,
            "labelFont": "Liberation Serif",
            "labelFontSize": 20,
            "labelColor": "black",
            "labelOffset": 12,
            "labelLimit": 300,
            "rowPadding": -1,
            "encode": {
              "symbols": {
                "update": {
                  "fill": {"value": "black"},
                  "stroke": {"value": "transparent"},
                  "strokeWidth": {"value": 0},
                  "opacity": {"value": 1},
                  "size": {"value": 400}
                }
              }
            }
          }
        }
      }
    }
  ]
}
